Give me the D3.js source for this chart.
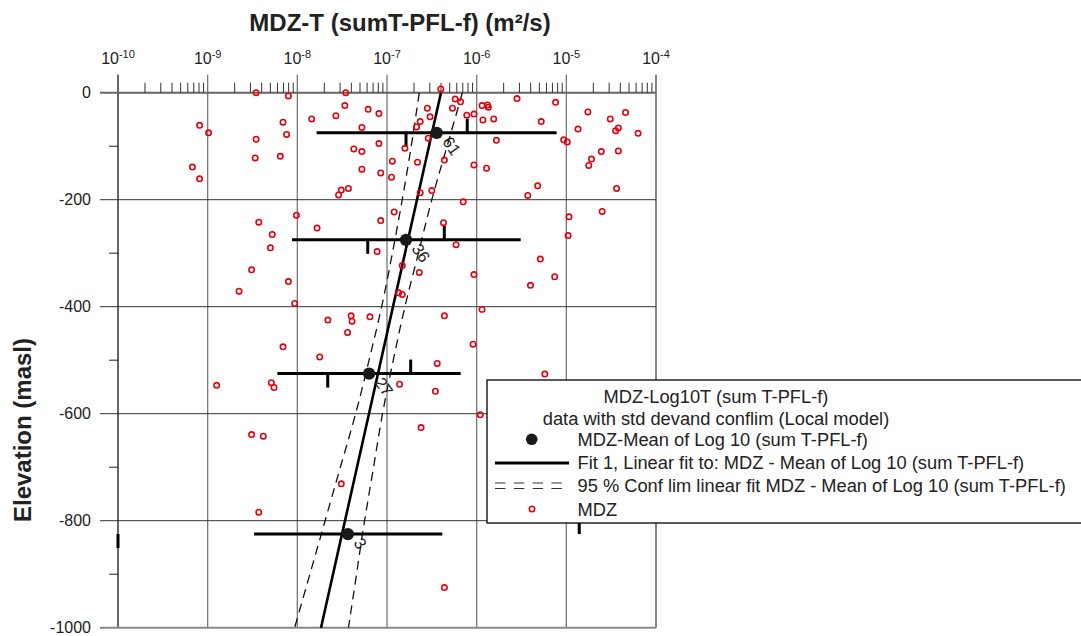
<!DOCTYPE html>
<html>
<head>
<meta charset="utf-8">
<script src="https://cdn.jsdelivr.net/npm/d3@7"></script>
<style>
  body { margin: 0; background: #fff; }
  svg { font-family: "Liberation Sans", Arial, sans-serif; }
</style>
</head>
<body>
<svg id="chart" width="1081" height="636"></svg>
<script>
// log10 of transmissivity (m2/s) and elevation (masl) of every MDZ sample
const ptLogT = [
  -8.46, -8.10, -7.46, -7.47, -7.21, -7.09, -7.57, -7.84, -8.16, -9.09, -8.99, -8.12, -8.46, -7.28, -7.09,
  -7.37, -7.28, -8.19, -8.47, -9.17, -9.09, -7.28, -7.07, -7.43, -7.51, -7.54, -8.01, -8.43, -7.78, -7.07,
  -8.28, -8.30, -7.11, -8.51, -8.10, -8.65, -8.03, -7.66, -7.40, -7.39, -7.19, -7.44, -8.16,
  -6.40, -6.24, -6.18, -6.27, -6.55, -6.52, -6.63, -6.67, -5.94, -5.88, -5.87, -5.55, -5.12, -6.11, -6.03,
  -5.93, -5.81, -5.28, -4.76, -4.51, -4.34, -4.87, -4.42, -4.45, -4.20, -6.54, -6.80, -5.78, -5.03, -4.99,
  -4.61, -4.42, -4.72, -4.75, -6.94, -6.66, -6.36, -6.03, -5.89, -6.95, -6.63, -6.50, -5.32, -5.43, -4.44,
  -6.15, -6.92, -4.97, -4.60, -6.37, -4.98, -6.23, -6.83, -6.64, -5.29, -5.13, -5.40, -6.03, -6.87, -6.83,
  -5.94, -6.36, -6.04,
  -7.75, -8.90, -8.29, -8.26, -8.51, -8.38, -7.51, -8.43,
  -6.44, -5.24, -6.86, -6.46, -5.96, -6.62, -6.36
];
const ptElev = [
  0, -6, 0, -24, -31, -39, -43, -49, -55, -61, -75, -78, -87, -65, -95,
  -105, -110, -119, -122, -139, -161, -143, -150, -179, -182, -191, -229, -242, -253, -239,
  -265, -290, -297, -331, -353, -371, -394, -425, -417, -427, -419, -448, -475,
  7, -12, -17, -29, -29, -45, -54, -64, -24, -23, -27, -11, -18, -42, -40,
  -51, -49, -54, -36, -49, -37, -68, -66, -71, -76, -85, -104, -89, -88, -92,
  -110, -109, -124, -136, -128, -130, -126, -135, -141, -158, -187, -183, -174, -192, -179,
  -204, -223, -232, -222, -243, -267, -284, -323, -336, -311, -344, -360, -340, -374, -377,
  -405, -417, -470,
  -494, -547, -542, -551, -639, -642, -731, -784,
  -506, -526, -545, -558, -602, -626, -925
];

// section means of log10 T with std dev and conf limits
const grpElev = [-75, -275, -525, -825];
const grpMean = [-6.446, -6.788, -7.200, -7.436];
const grpStdLo = [-7.785, -8.060, -8.223, -8.483];
const grpStdHi = [-5.108, -5.509, -6.178, -6.383];
const grpConfLo = [-6.788, -7.215, -7.661, -10.0];
const grpConfHi = [-6.105, -6.361, -6.736, -4.856];
const grpCount = ["61", "36", "27", "3"];

// linear fit and its 95 % confidence limits
const fitElev = [0, -1000];
const fitLogT = [-6.398, -7.736];
const bandElev = [0, -100, -200, -300, -400, -500, -600, -700, -800, -900, -1000];
const bandLo = [-6.64, -6.73, -6.83, -6.94, -7.06, -7.20, -7.35, -7.52, -7.69, -7.86, -8.03];
const bandHi = [-6.16, -6.33, -6.50, -6.65, -6.80, -6.93, -7.05, -7.15, -7.25, -7.34, -7.43];

const xExponents = [-10, -9, -8, -7, -6, -5, -4];
const yTicks = [0, -200, -400, -600, -800, -1000];
const yMinor = [-100, -300, -500, -700, -900];

const legendTitle = ["MDZ-Log10T (sum T-PFL-f)", "data with std devand conflim (Local model)"];
const legendItems = [
  "MDZ-Mean of Log 10 (sum T-PFL-f)",
  "Fit 1, Linear fit to: MDZ - Mean of Log 10 (sum T-PFL-f)",
  "95 % Conf lim linear fit MDZ - Mean of Log 10 (sum T-PFL-f)",
  "MDZ"
];

const svg = d3.select("#chart");
const plotL = 118, plotR = 656, plotT = 92.7, plotB = 627.7;
const red = "#e3000f";

const x = d3.scaleLog().domain([1e-10, 1e-4]).range([plotL, plotR]);
const y = d3.scaleLinear().domain([0, -1000]).range([plotT, plotB]);
const T = (v) => Math.pow(10, v);

// grid
const grid = svg.append("g");
grid.selectAll(".vg")
  .data(xExponents)
  .enter()
  .append("line")
  .attr("x1", (d) => x(T(d)))
  .attr("x2", (d) => x(T(d)))
  .attr("y1", plotT - 18)
  .attr("y2", plotB)
  .attr("stroke", (d, i) => (i === 0 ? "#555" : "#777"))
  .attr("stroke-width", (d, i) => (i === 0 || i === xExponents.length - 1 ? 1.8 : 1.3));
grid.selectAll(".hg")
  .data(yTicks)
  .enter()
  .append("line")
  .attr("x1", plotL - 18)
  .attr("x2", plotR)
  .attr("y1", (d) => y(d))
  .attr("y2", (d) => y(d))
  .attr("stroke", (d, i) => (i === 0 ? "#666" : i === yTicks.length - 1 ? "#888" : "#333"))
  .attr("stroke-width", (d, i) => (i === 0 || i === yTicks.length - 1 ? 2 : 1));

// minor ticks
svg.append("g")
  .selectAll("line")
  .data(x.ticks().filter((t) => Math.abs(Math.log10(t) - Math.round(Math.log10(t))) > 1e-6))
  .enter()
  .append("line")
  .attr("x1", (d) => x(d))
  .attr("x2", (d) => x(d))
  .attr("y1", plotT - 10)
  .attr("y2", plotT)
  .attr("stroke", "#333")
  .attr("stroke-width", 1);
svg.append("g")
  .selectAll("line")
  .data(yMinor)
  .enter()
  .append("line")
  .attr("x1", plotL - 9)
  .attr("x2", plotL)
  .attr("y1", (d) => y(d))
  .attr("y2", (d) => y(d))
  .attr("stroke", "#222")
  .attr("stroke-width", 1);

// tick labels
const xl = svg.append("g")
  .selectAll("text")
  .data(xExponents)
  .enter()
  .append("text")
  .attr("x", (d) => x(T(d)))
  .attr("y", 64.3)
  .attr("text-anchor", "middle")
  .attr("font-size", 16)
  .attr("fill", "#222");
xl.append("tspan").text("10");
xl.append("tspan").attr("font-size", 11).attr("dy", -6).text((d) => d);

svg.append("g")
  .selectAll("text")
  .data(yTicks)
  .enter()
  .append("text")
  .attr("x", 91)
  .attr("y", (d) => y(d))
  .attr("dy", "0.36em")
  .attr("text-anchor", "end")
  .attr("font-size", 16)
  .attr("fill", "#222")
  .text((d) => d);

// titles
svg.append("text")
  .attr("x", 400)
  .attr("y", 31)
  .attr("text-anchor", "middle")
  .attr("font-size", 24)
  .attr("font-weight", "bold")
  .attr("fill", "#222")
  .text("MDZ-T (sumT-PFL-f) (m²/s)");
svg.append("text")
  .attr("transform", "translate(31,430) rotate(-90)")
  .attr("text-anchor", "middle")
  .attr("font-size", 24)
  .attr("font-weight", "bold")
  .attr("fill", "#222")
  .text("Elevation (masl)");

// fit and confidence limits
const line = d3.line().x((d) => x(T(d[0]))).y((d) => y(d[1]));
const bandLine = d3.line().curve(d3.curveNatural).x((d) => x(T(d[0]))).y((d) => y(d[1]));
svg.append("path")
  .attr("d", line(fitLogT.map((v, i) => [v, fitElev[i]])))
  .attr("fill", "none")
  .attr("stroke", "#000")
  .attr("stroke-width", 2.6);
[bandLo, bandHi].forEach((arr) => {
  svg.append("path")
    .attr("d", bandLine(arr.map((v, i) => [v, bandElev[i]])))
    .attr("fill", "none")
    .attr("stroke", "#111")
    .attr("stroke-width", 1.3)
    .attr("stroke-dasharray", "9,6");
});

// group means
const grp = svg.append("g");
grp.selectAll(".std")
  .data(grpElev)
  .enter()
  .append("line")
  .attr("x1", (d, i) => x(T(grpStdLo[i])))
  .attr("x2", (d, i) => x(T(grpStdHi[i])))
  .attr("y1", (d) => y(d))
  .attr("y2", (d) => y(d))
  .attr("stroke", "#000")
  .attr("stroke-width", 3);
grp.selectAll(".clo")
  .data(grpElev)
  .enter()
  .append("line")
  .attr("x1", (d, i) => x(T(grpConfLo[i])))
  .attr("x2", (d, i) => x(T(grpConfLo[i])))
  .attr("y1", (d) => y(d))
  .attr("y2", (d) => y(d) + 14)
  .attr("stroke", "#000")
  .attr("stroke-width", 3);
grp.selectAll(".chi")
  .data(grpElev)
  .enter()
  .append("line")
  .attr("x1", (d, i) => x(T(grpConfHi[i])))
  .attr("x2", (d, i) => x(T(grpConfHi[i])))
  .attr("y1", (d) => y(d) - 14)
  .attr("y2", (d) => y(d))
  .attr("stroke", "#000")
  .attr("stroke-width", 3);
grp.selectAll("circle")
  .data(grpElev)
  .enter()
  .append("circle")
  .attr("cx", (d, i) => x(T(grpMean[i])))
  .attr("cy", (d) => y(d))
  .attr("r", 6.2)
  .attr("fill", "#1a1a1a");
grp.selectAll("text")
  .data(grpElev)
  .enter()
  .append("text")
  .attr("transform", (d, i) => `translate(${x(T(grpMean[i])) + 5},${y(d) + 9}) rotate(55)`)
  .attr("font-size", 16.5)
  .attr("fill", "#222")
  .text((d, i) => grpCount[i]);

// samples
svg.append("g")
  .selectAll("circle")
  .data(ptLogT)
  .enter()
  .append("circle")
  .attr("cx", (d) => x(T(d)))
  .attr("cy", (d, i) => y(ptElev[i]))
  .attr("r", 2.7)
  .attr("fill", "none")
  .attr("stroke", red)
  .attr("stroke-width", 1.6);

// legend
const lg = svg.append("g").attr("font-size", 18.3).attr("fill", "#222");
lg.append("rect")
  .attr("x", 487)
  .attr("y", 380)
  .attr("width", 640)
  .attr("height", 143)
  .attr("fill", "#fff")
  .attr("stroke", "#000")
  .attr("stroke-width", 1.3);
lg.selectAll(".lt")
  .data(legendTitle)
  .enter()
  .append("text")
  .attr("x", 716)
  .attr("y", (d, i) => 402.5 + i * 22.5)
  .attr("text-anchor", "middle")
  .text((d) => d);
lg.selectAll(".li")
  .data(legendItems)
  .enter()
  .append("text")
  .attr("x", 577.5)
  .attr("y", (d, i) => 446 + i * 23.2)
  .text((d) => d);
lg.append("circle").attr("cx", 531.7).attr("cy", 439.3).attr("r", 5.8).attr("fill", "#1a1a1a");
lg.append("line").attr("x1", 495).attr("x2", 569).attr("y1", 463).attr("y2", 463)
  .attr("stroke", "#000").attr("stroke-width", 3);
[483, 488.5].forEach((yy) => {
  lg.append("line").attr("x1", 495).attr("x2", 562).attr("y1", yy).attr("y2", yy)
    .attr("stroke", "#333").attr("stroke-width", 1).attr("stroke-dasharray", "10.5,8.3");
});
lg.append("circle").attr("cx", 532).attr("cy", 509).attr("r", 2.7)
  .attr("fill", "none").attr("stroke", red).attr("stroke-width", 1.6);
</script>
</body>
</html>
